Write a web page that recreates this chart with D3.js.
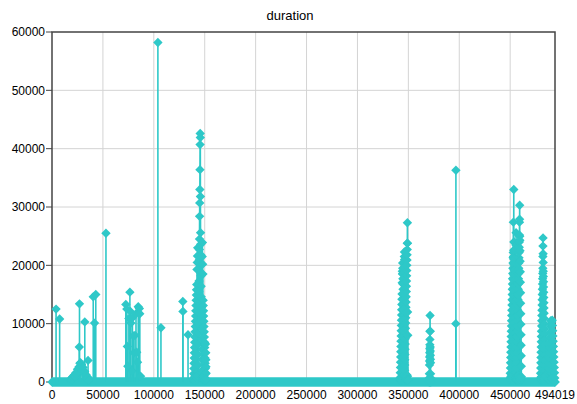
<!DOCTYPE html>
<html>
<head>
<meta charset="utf-8">
<script src="https://cdn.jsdelivr.net/npm/d3@7"></script>
<style>
  body { margin: 0; background: #fff; }
  text { font-family: "Liberation Sans", Arial, sans-serif; font-size: 12px; fill: #000; }
</style>
</head>
<body>
<svg id="chart" width="577" height="404"></svg>
<script>
var title = "duration";
var xMax = 494019;
var xTicks = [0, 50000, 100000, 150000, 200000, 250000, 300000, 350000, 400000, 450000, 494019];
var yTicks = [0, 10000, 20000, 30000, 40000, 50000, 60000];

/* single records sticking out of the zero line (index, duration) */
var spikeX = [4000, 7500, 26800, 27000, 28000, 32200, 35400, 40500, 41800, 43000, 53000,
  72500, 73500, 74000, 74500, 75500, 76500, 77000, 77500, 78500, 79000, 80000, 80500,
  81500, 82500, 83200, 84000, 84700, 85800, 86200, 87000,
  104000, 107000, 128500, 128600, 133600, 396600, 396700];
var spikeY = [12500, 10800, 6000, 13400, 3300, 10300, 3700, 14600, 10100, 15000, 25500,
  13300, 12500, 6100, 2700, 10900, 15400, 12100, 10100, 1900, 11000, 7900, 5000,
  8000, 11700, 5100, 3400, 12900, 12600, 11700, 1000,
  58200, 9300, 13800, 12100, 8100, 10000, 36300];

/* dense runs of records: [first index, last index] and the values in order */
var run0Range = [18000, 36000];
var run0 = [300, 600, 400, 900, 700, 1200, 900, 1600, 1300, 2200, 1800, 2600, 3200, 2400,
  3000, 1900, 2500, 1400, 1800, 900, 1200, 500, 800, 300];

var run1Range = [139000, 151500];
var run1 = [500, 1400, 300, 2300, 3200, 700, 4100, 5000, 400, 5900, 6800, 900, 7700, 8600,
  200, 9500, 10400, 600, 11300, 12200, 1000, 13100, 14000, 300, 14900, 15800, 800, 16700,
  800, 19300, 1200, 20500, 600, 21600, 1800, 23000, 900,
  1100, 2900, 4700, 6500, 8300, 10100, 11900, 13700, 15500, 17300, 19100, 20900, 22700,
  24500, 28400, 30700, 33000, 36400, 40700, 42600, 41900,
  31800, 25600, 23600, 21800, 20000, 18200, 16400, 14600, 12800, 11000, 9200, 7400, 5600,
  3800, 2000,
  21500, 700, 23900, 1500, 20200, 400, 18500, 1000,
  14000, 13100, 500, 12200, 11300, 900, 10400, 9500, 300, 8600, 7700, 700, 6800, 5900, 400,
  5000, 4100, 3200, 2300, 1400,
  6500, 300, 5000, 3800, 2600, 1500, 500];

var run2Range = [342000, 349500];
var run2 = [700, 1600, 300, 2500, 3400, 600, 4300, 5200, 200, 6100, 7000, 900, 7900, 8800,
  400, 9700, 10600, 700, 11500, 12400, 300, 13300, 14200, 800, 15100,
  900, 17000, 500, 19000, 1500, 18500, 800,
  20400, 19500, 18600, 17700, 16800, 15900, 15000, 14100, 13200, 12300, 11400, 10500, 9600,
  8700, 7800, 6900, 6000, 5100, 4200, 3300, 2400, 1500,
  21500, 600, 22300, 1200, 21000, 2000,
  2900, 3800, 300, 4700, 5600, 800, 6500, 7400, 400, 8300, 9200, 1000, 10100, 11000, 500,
  11900, 12800, 700, 13700, 14600, 300, 15500, 16400, 900, 17300, 18200, 600, 19100, 20000,
  1200, 20900, 21800, 400, 22700, 23800, 27300, 23800,
  1000, 12000, 500, 8000, 300];

var run3Range = [370500, 372000];
var run3 = [0, 700, 1400, 2900, 3600, 4300, 5000, 5700, 6400, 7300, 8700, 11400, 8700, 6000,
  5300, 4600, 3900, 3300, 1400, 700, 0];

var run4Range = [450000, 461000];
var run4 = [600, 1500, 300, 2400, 3300, 800, 4200, 5100, 400, 6000, 6900, 1000, 7800, 8700,
  500, 9600, 10500, 700, 11400, 12300, 300, 13200, 14100, 900, 15000, 15900, 600, 16800,
  17700, 1200, 18600, 19500, 400, 20400, 21300, 800, 22200, 27400,
  800, 21500, 1200, 22600,
  33000, 24000, 21000, 20100, 19200, 18300, 17400, 16500, 15600, 14700, 13800, 12900, 12000,
  11100, 10200, 9300, 8400, 7500, 6600, 5700, 4800, 3900, 3000, 2100, 1200,
  23500, 600, 25600,
  1500, 2400, 300, 3300, 4200, 700, 5100, 6000, 400, 6900, 7800, 1000, 8700, 9600, 500,
  10500, 11400, 800, 12300, 13200, 300, 14100, 15000, 900, 15900, 16800, 600, 17700, 18600,
  1100, 19500, 20400, 400, 21300, 22200, 700, 23100, 24000, 25200, 27400, 27900, 30300, 25000,
  24300, 600, 22500, 20700, 300, 18900, 17100, 900, 15300, 13500, 400, 11700, 9900, 700,
  8100, 6300, 4500, 2700, 900];

var run5Range = [479800, 484300];
var run5 = [600, 1500, 300, 2400, 3300, 700, 4200, 5100, 400, 6000, 6900, 900, 7800, 8700,
  500, 9600, 10500, 800, 11400, 12300, 300, 13200, 14100, 1000, 15000, 15900, 600, 16800,
  17700, 400, 18600, 19500,
  21500, 23300, 24700, 22000, 20500,
  19000, 18100, 700, 17200, 16300, 400, 15400, 14500, 900, 13600, 12700, 300, 11800, 10900,
  600, 10000, 9100, 8200, 7300, 6400, 5500, 4600, 3700, 2800, 1900, 1000];

var run6Range = [487500, 494019];
var run6 = [500, 1400, 2300, 3200, 4100, 5000, 5900, 6800, 7700, 8600, 9500, 10500, 800, 9800,
  1500, 10300, 600, 10600, 9700, 8800, 7900, 7000, 6100, 5200, 4300, 3400, 2500, 1600, 700, 0];

var runs = [[run0Range, run0], [run1Range, run1], [run2Range, run2], [run3Range, run3],
  [run4Range, run4], [run5Range, run5], [run6Range, run6]];

var color = "#2ec8c8";
var margin = { left: 52, right: 22, top: 32, bottom: 22 };
var width = 577, height = 404;

var svg = d3.select("#chart");
svg.append("rect").attr("width", width).attr("height", height).attr("fill", "#fff");

var x = d3.scaleLinear().domain([0, xMax]).range([margin.left, width - margin.right]);
var y = d3.scaleLinear().domain([0, 60000]).range([height - margin.bottom, margin.top]);

/* grid */
svg.append("g")
  .selectAll("line")
  .data(xTicks.slice(1, -1))
  .enter()
  .append("line")
  .attr("x1", (d) => x(d)).attr("x2", (d) => x(d))
  .attr("y1", y(0)).attr("y2", y(60000))
  .attr("stroke", "#d4d4d4").attr("stroke-width", 1);
svg.append("g")
  .selectAll("line")
  .data(yTicks.slice(1, -1))
  .enter()
  .append("line")
  .attr("x1", x(0)).attr("x2", x(xMax))
  .attr("y1", (d) => y(d)).attr("y2", (d) => y(d))
  .attr("stroke", "#d4d4d4").attr("stroke-width", 1);

/* frame */
svg.append("rect")
  .attr("x", x(0)).attr("y", y(60000))
  .attr("width", x(xMax) - x(0)).attr("height", y(0) - y(60000))
  .attr("fill", "none").attr("stroke", "#444").attr("stroke-width", 1.5);

/* y axis ticks + labels */
var yAxis = svg.append("g");
yTicks.forEach((t) => {
  yAxis.append("line")
    .attr("x1", x(0) - 6).attr("x2", x(0))
    .attr("y1", y(t)).attr("y2", y(t))
    .attr("stroke", "#444");
  yAxis.append("text")
    .attr("x", x(0) - 7).attr("y", y(t)).attr("dy", "0.35em")
    .attr("text-anchor", "end").text(t);
});

/* x labels */
svg.append("g")
  .selectAll("text")
  .data(xTicks)
  .enter()
  .append("text")
  .attr("x", (d) => x(d)).attr("y", height - 5)
  .attr("text-anchor", "middle")
  .text((d) => d);

/* title */
svg.append("text")
  .attr("x", 290).attr("y", 20)
  .attr("text-anchor", "middle")
  .style("font-size", "13px")
  .text(title);

var diamond = (cx, cy) => {
  var r = 4.7;
  return "M" + cx + "," + (cy - r) + "L" + (cx + r) + "," + cy + "L" + cx + "," + (cy + r) + "L" + (cx - r) + "," + cy + "Z";
};

var series = svg.append("g");

/* zero line: every record not listed above is 0 */
series.append("line")
  .attr("x1", x(0)).attr("x2", x(xMax))
  .attr("y1", y(0)).attr("y2", y(0))
  .attr("stroke", color).attr("stroke-width", 9.4);
series.append("path").attr("d", diamond(x(0), y(0))).attr("fill", color);
series.append("path").attr("d", diamond(x(xMax), y(0))).attr("fill", color);

/* single spikes */
var spikes = spikeX.map((d, i) => [d, spikeY[i]]);
series.selectAll(".stem")
  .data(spikes)
  .enter()
  .append("line")
  .attr("class", "stem")
  .attr("x1", (d) => x(d[0])).attr("x2", (d) => x(d[0]))
  .attr("y1", y(0)).attr("y2", (d) => y(d[1]))
  .attr("stroke", color).attr("stroke-width", 1.6);
series.selectAll(".spikeMark")
  .data(spikes)
  .enter()
  .append("path")
  .attr("class", "spikeMark")
  .attr("d", (d) => diamond(x(d[0]), y(d[1])))
  .attr("fill", color);

/* dense runs */
var line = d3.line().x((d) => x(d[0])).y((d) => y(d[1]));
runs.forEach((r) => {
  var range = r[0], vals = r[1];
  var step = (range[1] - range[0]) / (vals.length - 1);
  var pts = vals.map((v, i) => [range[0] + i * step, v]);
  series.append("path")
    .attr("d", line([[range[0], 0]].concat(pts).concat([[range[1], 0]])))
    .attr("fill", "none").attr("stroke", color).attr("stroke-width", 1.6);
  series.append("g")
    .selectAll("path")
    .data(pts)
    .enter()
    .append("path")
    .attr("d", (d) => diamond(x(d[0]), y(d[1])))
    .attr("fill", color);
});
</script>
</body>
</html>
